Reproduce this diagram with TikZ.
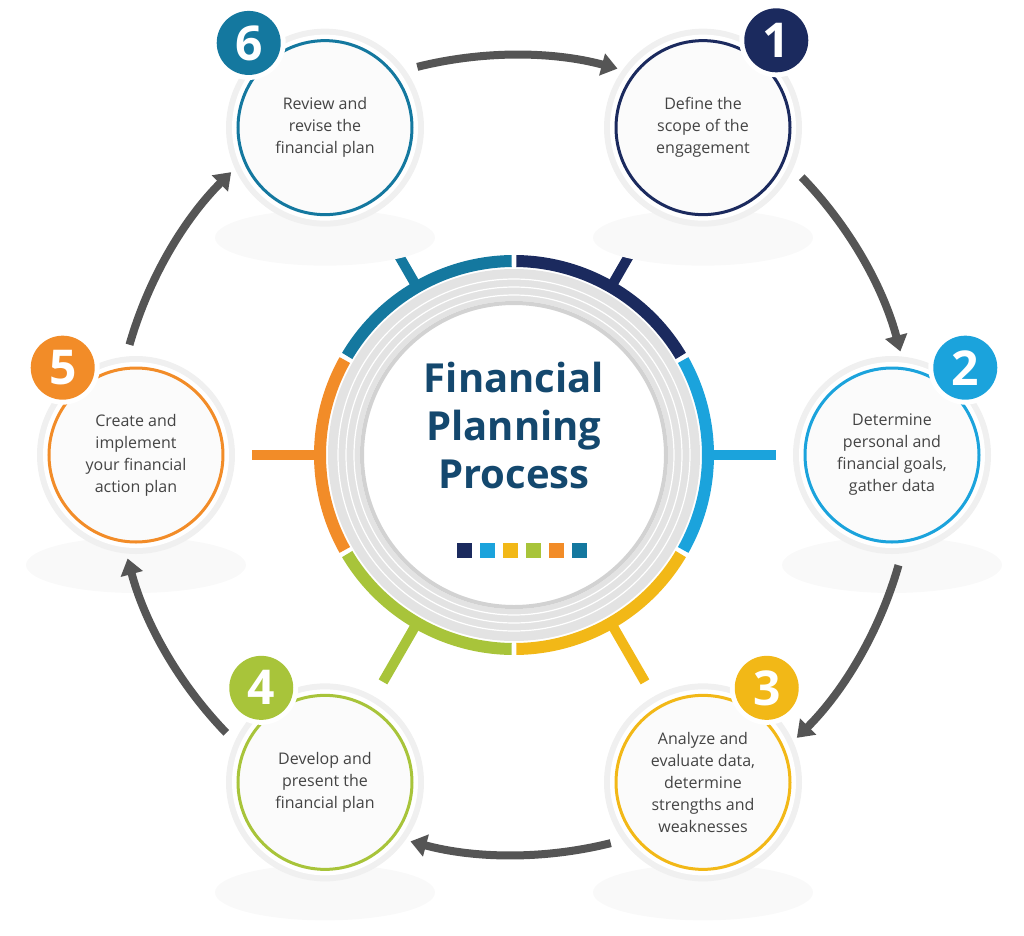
\documentclass[tikz,border=0pt]{standalone}
\usepackage{fontspec}
\setmainfont{Open Sans}
\usetikzlibrary{arrows.meta,calc}
\definecolor{cA}{HTML}{1B2A5E}
\definecolor{cB}{HTML}{1BA3DC}
\definecolor{cC}{HTML}{F2B817}
\definecolor{cD}{HTML}{A8C43A}
\definecolor{cE}{HTML}{F28C28}
\definecolor{cF}{HTML}{14789F}
\definecolor{ttl}{HTML}{14486E}
\definecolor{arr}{HTML}{555555}
\definecolor{txt}{HTML}{444444}
\tikzset{
  flow/.style={draw=arr,line width=8pt,-{Triangle[length=16pt,width=22pt]}},
  sattext/.style={align=center,text=txt,font=\fontsize{16}{22}\selectfont},
  badgenum/.style={text=white,font=\fontsize{48}{48}\selectfont\bfseries},
}
\begin{document}
\begin{tikzpicture}[x=1pt,y=1pt]
\useasboundingbox (-514,-480) rectangle (510,455);
\coordinate (c) at (0,0);
% centre
\fill[gray!22] (c) circle[radius=186];
\foreach \r in {176,168,160} \draw[white,line width=1.2pt] (c) circle[radius=\r];
\fill[white] (c) circle[radius=154];
\draw[gray!35,line width=4pt] (c) circle[radius=152];
\node[align=center,text=ttl,font=\fontsize{40}{48}\selectfont\bfseries] (title) at (0,30) {Financial\\Planning\\Process};
\foreach \col [count=\i] in {cA,cB,cC,cD,cE,cF}
  \fill[\col] (-80+\i*23,-88) rectangle ++(15,-15);
% ring, spokes and satellites
\foreach \col/\ang/\n/\side/\txt in {
  cA/60/1/50/{Define the\\scope of the\\engagement},
  cB/0/2/50/{Determine\\personal and\\financial goals,\\gather data},
  cC/-60/3/56/{Analyze and\\evaluate data,\\determine\\strengths and\\weaknesses},
  cD/-120/4/124/{Develop and\\present the\\financial plan},
  cE/180/5/130/{Create and\\implement\\your financial\\action plan},
  cF/120/6/132/{Review and\\revise the\\financial plan}}{
  \draw[\col,line width=12pt] ([shift={(\ang+29.3:194)}]c) arc[start angle=\ang+29.3,end angle=\ang-29.3,radius=194];
  \draw[\col,line width=10pt] (\ang:196) -- (\ang:262);
  \fill[gray!5] (\ang:378) ++(0,-110) ellipse[x radius=110,y radius=28];
  \fill[gray!12] (\ang:378) circle[radius=99];
  \fill[white] (\ang:378) circle[radius=93];
  \draw[\col,line width=3pt,fill=gray!3] (\ang:378) circle[radius=87];
  \node[sattext] (s\n) at (\ang:378) {\txt};
  \fill[white] (\ang:378) ++(\side:114) circle[radius=37];
  \fill[\col] (\ang:378) ++(\side:114) circle[radius=32];
  \node[badgenum] (b\n) at ($(\ang:378)+(\side:114)$) {\n};
}
% arrows
\foreach \a in {60,0,-60,-120,180,120}
  \draw[flow] ([shift={(\a+44:400)}]c) arc[start angle=\a+44,end angle=\a+15,radius=400];
\end{tikzpicture}
\end{document}
